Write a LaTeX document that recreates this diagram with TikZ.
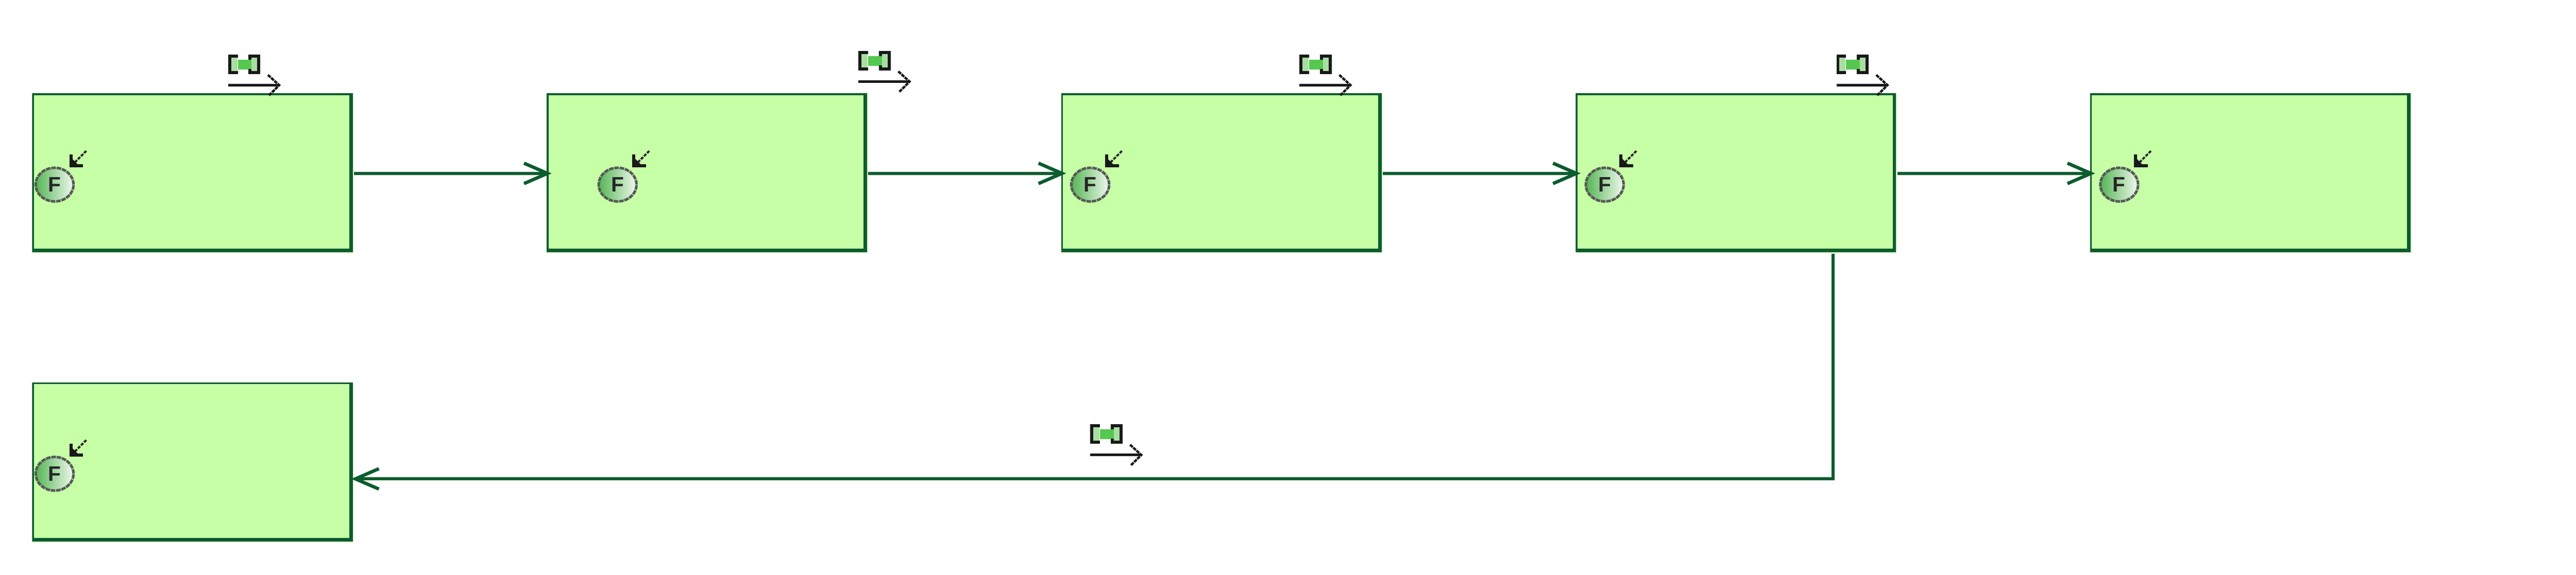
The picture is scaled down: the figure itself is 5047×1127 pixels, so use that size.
\documentclass[tikz,border=0pt]{standalone}
\usepackage{fontspec}
\setmainfont{Liberation Sans}
\usetikzlibrary{arrows.meta,shapes.geometric}
\definecolor{linkgreen}{HTML}{0B5C2E}
\definecolor{boxfill}{HTML}{C6FFA6}
\definecolor{boxhalo}{HTML}{DDFFCC}
\definecolor{ficonleft}{HTML}{55B555}
\definecolor{ficonright}{HTML}{F0F8EE}
\definecolor{ficonedge}{HTML}{555A55}
\definecolor{linklight}{HTML}{A9DEA2}
\definecolor{linkcore}{HTML}{55C850}
\tikzset{
  boxnode/.style={rectangle,minimum width=630pt,minimum height=314pt,inner sep=0pt,draw=none,
    path picture={
      \fill[boxhalo] (path picture bounding box.south west) rectangle (path picture bounding box.north east);
      \fill[linkgreen] ([yshift=2pt]path picture bounding box.south west) rectangle ([xshift=-2pt]path picture bounding box.north east);
      \fill[boxfill] ([xshift=3.5pt,yshift=9pt]path picture bounding box.south west) rectangle ([xshift=-9pt,yshift=-3.5pt]path picture bounding box.north east);
    }},
  link/.style={draw=linkgreen,line width=6.5pt,miter limit=10,-{Straight Barb[length=46pt,width=40pt,line width=6.5pt]}},
  ficon/.style={ellipse,minimum width=74pt,minimum height=66pt,inner sep=0pt,draw=ficonedge,
    line width=5pt,dash pattern=on 9pt off 1.5pt,left color=ficonleft,right color=ficonright,
    text=black!85,font=\fontsize{41}{41}\selectfont\bfseries},
  iconstroke/.style={draw=black!90,line width=6pt},
  icontail/.style={draw=black!85,line width=4pt,dash pattern=on 6pt off 2.5pt},
}
% small "override" arrow, #1 = corner point of its head
\newcommand{\smallarrow}[1]{%
  \begin{scope}[shift={(#1)}]
    \draw[icontail] (30,-29) -- (6,-5);
    \draw[iconstroke,miter limit=10] (0,-22) -- (0,0) -- (24,0);
    \fill[black!90] (0,0) -- (0,-16) -- (16,0) -- cycle;
  \end{scope}}
% F badge with its small arrow
\newcommand{\fbadge}[3]{%
  \node[ficon] (#1) at (#2,#3) {F};
  \smallarrow{#2+32,#3-37}}
% link icon, with its top left corner at the given point
\newcommand{\linkicon}[2]{%
  \begin{scope}[shift={(#1,#2)}]
    \fill[linklight] (2,2) rectangle (18,36);
    \fill[linklight] (42,2) rectangle (61,36);
    \fill[linkcore] (19,10) rectangle (46,29);
    \draw[iconstroke] (19,3) -- (3,3) -- (3,35) -- (19,35);
    \draw[iconstroke] (43,10) -- (43,3) -- (60,3) -- (60,35) -- (43,35) -- (43,28);
    \draw[draw=black!90,line width=5.5pt] (0,60) -- (100,60);
    \draw[draw=black!90,line width=4.5pt,dash pattern=on 7pt off 1.5pt] (78,40) -- (100,60) -- (79,81);
  \end{scope}}
\begin{document}
\begin{tikzpicture}[x=1pt,y=-1pt]
\useasboundingbox (0,0) rectangle (5047,1127);
% boxes
\node[boxnode] (b1) at (378,340) {};
\node[boxnode] (b2) at (1386,340) {};
\node[boxnode] (b3) at (2394,340) {};
\node[boxnode] (b4) at (3402,340) {};
\node[boxnode] (b5) at (4410,340) {};
\node[boxnode] (b6) at (378,907) {};
% connectors
\coordinate (bend) at (3591.5,939);
\draw[link] (b1.east) -- ([xshift=10pt]b2.west);
\draw[link] (b2.east) -- ([xshift=10pt]b3.west);
\draw[link] (b3.east) -- ([xshift=10pt]b4.west);
\draw[link] (b4.east) -- ([xshift=10pt]b5.west);
\draw[link] (b4.south -| bend) -- (bend) -- ([xshift=-5pt]bend -| b6.east);
% badges
\fbadge{f1}{107}{362}
\fbadge{f2}{1210}{362}
\fbadge{f3}{2136}{362}
\fbadge{f4}{3144}{362}
\fbadge{f5}{4152}{362}
\fbadge{f6}{107}{929}
% link icons
\linkicon{447}{107}
\linkicon{1682}{100}
\linkicon{2546}{107}
\linkicon{3598}{107}
\linkicon{2136}{832}
\end{tikzpicture}
\end{document}
